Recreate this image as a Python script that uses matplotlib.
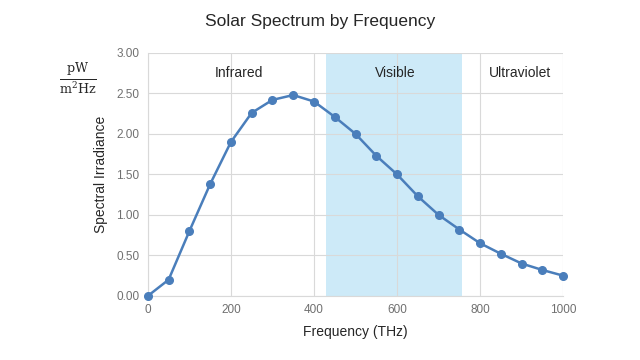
import matplotlib.pyplot as plt

# frequency (THz) and spectral irradiance
freq = [0, 50, 100, 150, 200, 250, 300, 350, 400, 450, 500,
        550, 600, 650, 700, 750, 800, 850, 900, 950, 1000]
irradiance = [0.0, 0.2, 0.8, 1.38, 1.9, 2.26, 2.42, 2.48, 2.4, 2.21, 2.0,
              1.73, 1.5, 1.23, 1.0, 0.82, 0.65, 0.52, 0.4, 0.32, 0.25]
visible_band = (430, 757)
region_names = ['Infrared', 'Visible', 'Ultraviolet']
region_centers = [220, 595, 896]

plt.rcParams['font.family'] = ['Liberation Sans', 'DejaVu Sans']

fig = plt.figure(figsize=(6.4, 3.6), dpi=100)
ax = fig.add_axes([0.231, 0.178, 0.649, 0.675])

ax.axvspan(*visible_band, color='#cdeaf8', zorder=0, lw=0)
ax.plot(freq, irradiance, color='#4a7ebb', lw=1.8, marker='o', ms=5.5,
        zorder=3, clip_on=False)

ax.set_xlim(0, 1000)
ax.set_ylim(0, 3)
ax.set_xticks(range(0, 1001, 200))
ax.set_yticks([i * 0.5 for i in range(7)])
ax.yaxis.set_major_formatter(lambda v, p: f'{v:.2f}')
ax.grid(True, color='#d9d9d9', lw=0.8, zorder=1)
ax.set_axisbelow(True)
for s in ['top', 'right']:
    ax.spines[s].set_visible(False)
for s in ['left', 'bottom']:
    ax.spines[s].set_color('#d9d9d9')
ax.tick_params(colors='#707070', labelsize=8.5, length=0, pad=6)

for name, c in zip(region_names, region_centers):
    ax.text(c, 2.75, name, ha='center', va='center', fontsize=10, color='#262626')

ax.set_xlabel('Frequency (THz)', fontsize=10, color='#262626', labelpad=6)
ax.set_ylabel('Spectral Irradiance', fontsize=10, color='#262626', labelpad=6)
fig.text(0.5, 0.939, 'Solar Spectrum by Frequency', ha='center', va='center',
         fontsize=12.5, color='#262626')
fig.text(0.122, 0.78, r'$\frac{\mathrm{pW}}{\mathrm{m^2Hz}}$', ha='center', va='center',
         fontsize=13, color='#262626', math_fontfamily='dejavuserif')

fig.savefig('out.png', dpi=100)
